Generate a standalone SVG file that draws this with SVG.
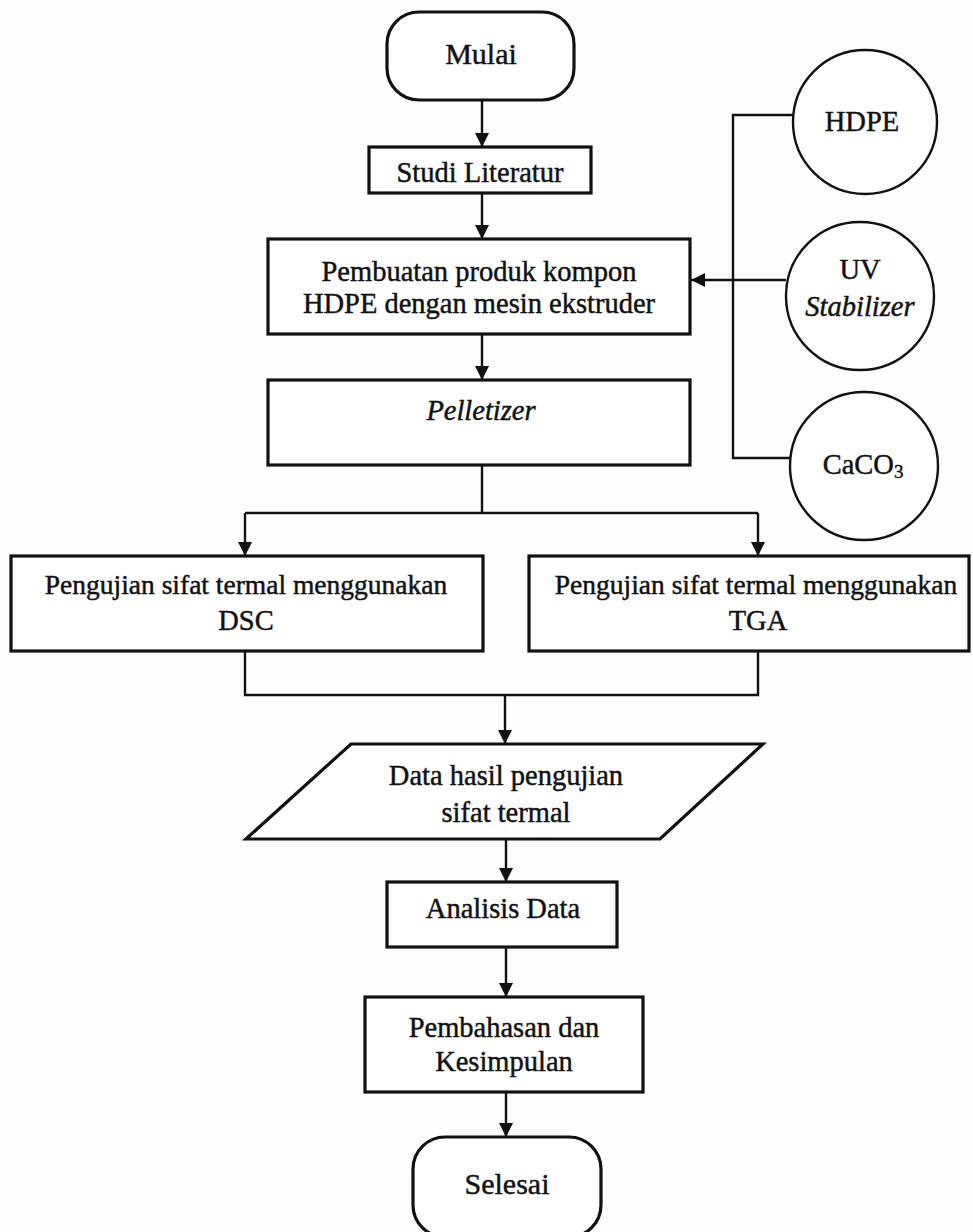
<svg xmlns="http://www.w3.org/2000/svg" width="973" height="1232" viewBox="0 0 973 1232">
<defs>
<style>
.box{fill:#fff;stroke:#111;stroke-width:3.2}
.circ{fill:#fff;stroke:#111;stroke-width:2.4}
.ln{fill:none;stroke:#111;stroke-width:2.4}
.t{font-family:"Liberation Serif","Times New Roman",serif;font-size:28.5px;fill:#111;stroke:#111;stroke-width:0.45;text-anchor:middle}
.s{font-size:27.5px}
.i{font-style:italic}
</style>
<marker id="ah" markerUnits="userSpaceOnUse" markerWidth="14" markerHeight="16" refX="14" refY="8" orient="auto">
<path d="M0,1 L14,8 L0,15 Z" fill="#111"/>
</marker>
</defs>
<rect width="973" height="1232" fill="#fdfdfd"/>
<g id="connectors">
<path class="ln" d="M482,100 V147" marker-end="url(#ah)"/>
<path class="ln" d="M482,193 V239" marker-end="url(#ah)"/>
<path class="ln" d="M482,334 V380" marker-end="url(#ah)"/>
<path class="ln" d="M794,115 H733 V458 H791"/>
<path class="ln" d="M786,280 H691" marker-end="url(#ah)"/>
<path class="ln" d="M482,465 V513 M245,513 H758"/>
<path class="ln" d="M245,513 V556" marker-end="url(#ah)"/>
<path class="ln" d="M758,513 V556" marker-end="url(#ah)"/>
<path class="ln" d="M245,651 V695 H758 V651"/>
<path class="ln" d="M505,695 V744" marker-end="url(#ah)"/>
<path class="ln" d="M506,839 V882" marker-end="url(#ah)"/>
<path class="ln" d="M506,947 V997" marker-end="url(#ah)"/>
<path class="ln" d="M506,1092 V1137" marker-end="url(#ah)"/>
</g>
<g id="mulai">
<rect class="box" x="387" y="12" width="187" height="88" rx="32"/>
<text class="t" x="481" y="64" style="font-size:30px">Mulai</text>
</g>
<g id="studi">
<rect class="box" x="369" y="147" width="222" height="46"/>
<text class="t" x="480" y="182">Studi Literatur</text>
</g>
<g id="pembuatan">
<rect class="box" x="268" y="239" width="422" height="95"/>
<text class="t" x="479" y="281">Pembuatan produk kompon</text>
<text class="t" x="479" y="313">HDPE dengan mesin ekstruder</text>
</g>
<g id="hdpe">
<circle class="circ" cx="865" cy="122" r="72"/>
<text class="t" x="862" y="131">HDPE</text>
</g>
<g id="uv">
<circle class="circ" cx="860" cy="296" r="74"/>
<text class="t" x="860" y="279">UV</text>
<text class="t i" x="860" y="316">Stabilizer</text>
</g>
<g id="caco3">
<circle class="circ" cx="864" cy="466" r="74"/>
<text class="t" x="863" y="474">CaCO<tspan font-size="19" dy="4">3</tspan></text>
</g>
<g id="pelletizer">
<rect class="box" x="268" y="380" width="422" height="85"/>
<text class="t i" x="481" y="420">Pelletizer</text>
</g>
<g id="dsc">
<rect class="box" x="11" y="556" width="472" height="95"/>
<text class="t s" x="246" y="594">Pengujian sifat termal menggunakan</text>
<text class="t" x="246" y="630">DSC</text>
</g>
<g id="tga">
<rect class="box" x="529" y="556" width="440" height="95"/>
<text class="t s" x="756" y="594">Pengujian sifat termal menggunakan</text>
<text class="t" x="758" y="630">TGA</text>
</g>
<g id="data">
<path class="box" d="M351,744 H763 L660,839 H246 Z"/>
<text class="t" x="506" y="785">Data hasil pengujian</text>
<text class="t" x="506" y="822">sifat termal</text>
</g>
<g id="analisis">
<rect class="box" x="387" y="882" width="230" height="65"/>
<text class="t" x="503" y="918">Analisis Data</text>
</g>
<g id="pembahasan">
<rect class="box" x="365" y="997" width="278" height="95"/>
<text class="t" x="504" y="1037">Pembahasan dan</text>
<text class="t" x="504" y="1071">Kesimpulan</text>
</g>
<g id="selesai">
<rect class="box" x="413" y="1137" width="188" height="100" rx="32"/>
<text class="t" x="507" y="1194" style="font-size:30px">Selesai</text>
</g>
</svg>
